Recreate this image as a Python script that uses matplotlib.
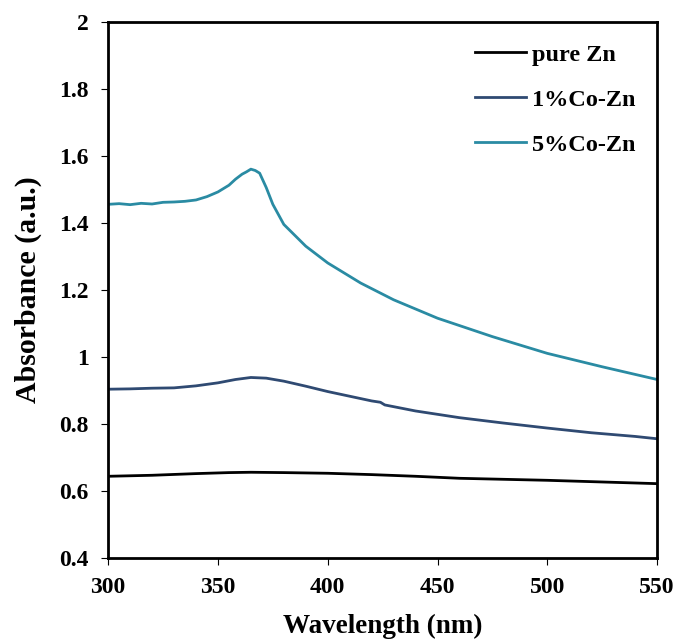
import numpy as np
import matplotlib.pyplot as plt

plt.rcParams['font.family'] = ['Liberation Serif', 'DejaVu Serif']
plt.rcParams['font.weight'] = 'bold'

# wavelength (nm) and absorbance
wl_pure = [300, 320, 340, 355, 365, 380, 400, 420, 440, 460, 480, 500, 520, 550]
ab_pure = [0.643, 0.646, 0.651, 0.654, 0.655, 0.654, 0.652, 0.648, 0.643, 0.637, 0.634, 0.631, 0.627, 0.621]

wl_1 = [300, 310, 320, 330, 340, 350, 358, 365, 372, 380, 390, 400, 410, 420, 424, 426,
        440, 460, 480, 500, 520, 540, 550]
ab_1 = [0.903, 0.904, 0.906, 0.907, 0.913, 0.922, 0.932, 0.938, 0.936, 0.927, 0.912, 0.896, 0.882,
        0.868, 0.864, 0.856, 0.838, 0.818, 0.802, 0.787, 0.773, 0.762, 0.755]

wl_5 = [300, 305, 310, 315, 320, 325, 330, 335, 340, 345, 350, 355, 358, 361, 363, 365, 367,
        369, 372, 375, 380, 390, 400, 415, 430, 450, 475, 500, 525, 550]
ab_5 = [1.455, 1.457, 1.454, 1.458, 1.456, 1.461, 1.462, 1.464, 1.468, 1.478, 1.492, 1.512,
        1.530, 1.545, 1.552, 1.560, 1.556, 1.548, 1.505, 1.455, 1.395, 1.330, 1.280, 1.220,
        1.170, 1.115, 1.060, 1.010, 0.970, 0.932]

fig = plt.figure(figsize=(6.76, 6.41), dpi=100)
ax = fig.add_axes([0.160, 0.130, 0.812, 0.836])

ax.plot(wl_pure, ab_pure, color='black', lw=2, label='pure Zn')
ax.plot(wl_1, ab_1, color='#2F4A72', lw=2, label='1%Co-Zn')
ax.plot(wl_5, ab_5, color='#2A8BA3', lw=2, label='5%Co-Zn')

ax.set_xlim(300, 550)
ax.set_ylim(0.4, 2)
ax.set_xticks([300, 350, 400, 450, 500, 550])
ax.set_yticks([0.4, 0.6, 0.8, 1.0, 1.2, 1.4, 1.6, 1.8, 2.0])
ax.set_yticklabels(['0.4', '0.6', '0.8', '1', '1.2', '1.4', '1.6', '1.8', '2'])
ax.tick_params(labelsize=17, length=5, width=0.8, direction='out', pad=9)
for s in ax.spines.values():
    s.set_linewidth(2)

ax.set_xlabel('Wavelength (nm)', fontsize=19.5, fontweight='bold', labelpad=11)
ax.set_ylabel('Absorbance (a.u.)', fontsize=21.5, fontweight='bold', labelpad=12)

ax.legend(loc='upper right', frameon=False, fontsize=17.5, handlelength=2.1,
          handletextpad=0.25, labelspacing=0.95, bbox_to_anchor=(1.0, 1.0))

plt.savefig('out.png', dpi=100)
